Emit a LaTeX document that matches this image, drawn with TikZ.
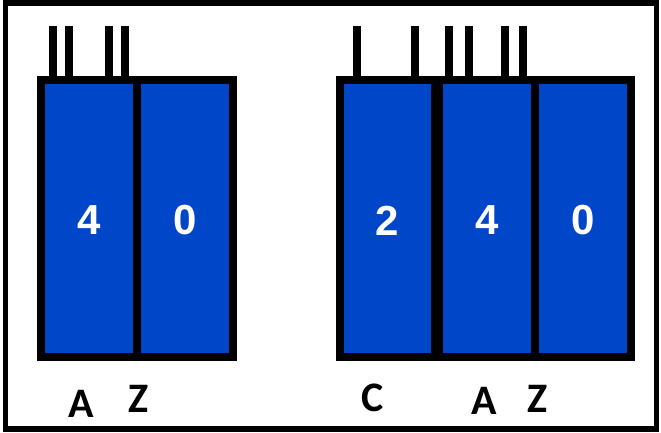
\documentclass[tikz,border=0pt]{standalone}
\usepackage{fontspec}
\setmainfont{Liberation Sans}
\newfontfamily\labfont{Carlito}
\definecolor{cellblue}{RGB}{0,70,200}
\tikzset{
  cell/.style={draw=black, fill=cellblue, line width=8pt, minimum width=96pt, minimum height=277pt, inner sep=0pt, outer sep=0pt},
  cellc/.style={cell, minimum width=95.5pt},
  digit/.style={text=white, font=\fontsize{42}{42}\selectfont\bfseries, inner sep=0pt},
  prong/.style={line width=8pt, black},
  lab/.style={font=\labfont\fontsize{42}{42}\selectfont\bfseries, anchor=base, inner sep=0pt},
  frame/.style={draw=black, line width=5.5pt}
}
\begin{document}
\begin{tikzpicture}[x=1pt,y=-1pt]
\useasboundingbox (0,0) rectangle (661,432);
\draw[frame] (5.5,2.8) rectangle (656.5,429.2);
% left group
\node[cell] (a1) at (89,218.5) {};
\node[cell] (z1) at (185,218.5) {};
% right group
\node[cellc] (c2) at (387.25,218.5) {};
\node[cell] (a2) at (487,218.5) {};
\node[cell] (z2) at (583,218.5) {};
% prongs
\foreach \dx in {12,28,68,84} \draw[prong] ([xshift=\dx pt]a1.north west) -- ++(0,-54);
\foreach \dx in {17.5,75.5} \draw[prong] ([xshift=\dx pt]c2.north west) -- ++(0,-54);
\foreach \dx in {10,30,66,84} \draw[prong] ([xshift=\dx pt]a2.north west) -- ++(0,-54);
% digits
\node[digit] (d1) at ([yshift=-2pt]a1.center) {4};
\node[digit] (d2) at ([yshift=-2pt]z1.center) {0};
\node[digit] (d3) at ([yshift=-2pt]c2.center) {2};
\node[digit] (d4) at ([yshift=-2pt]a2.center) {4};
\node[digit] (d5) at ([yshift=-2pt]z2.center) {0};
% labels
\node[lab] (la1) at (81,417.5) {A};
\node[lab] (lz1) at (138.5,412) {Z};
\node[lab] (lc2) at (372.5,411) {C};
\node[lab] (la2) at (484.5,414) {A};
\node[lab] (lz2) at (537.5,412) {Z};
\end{tikzpicture}
\end{document}
